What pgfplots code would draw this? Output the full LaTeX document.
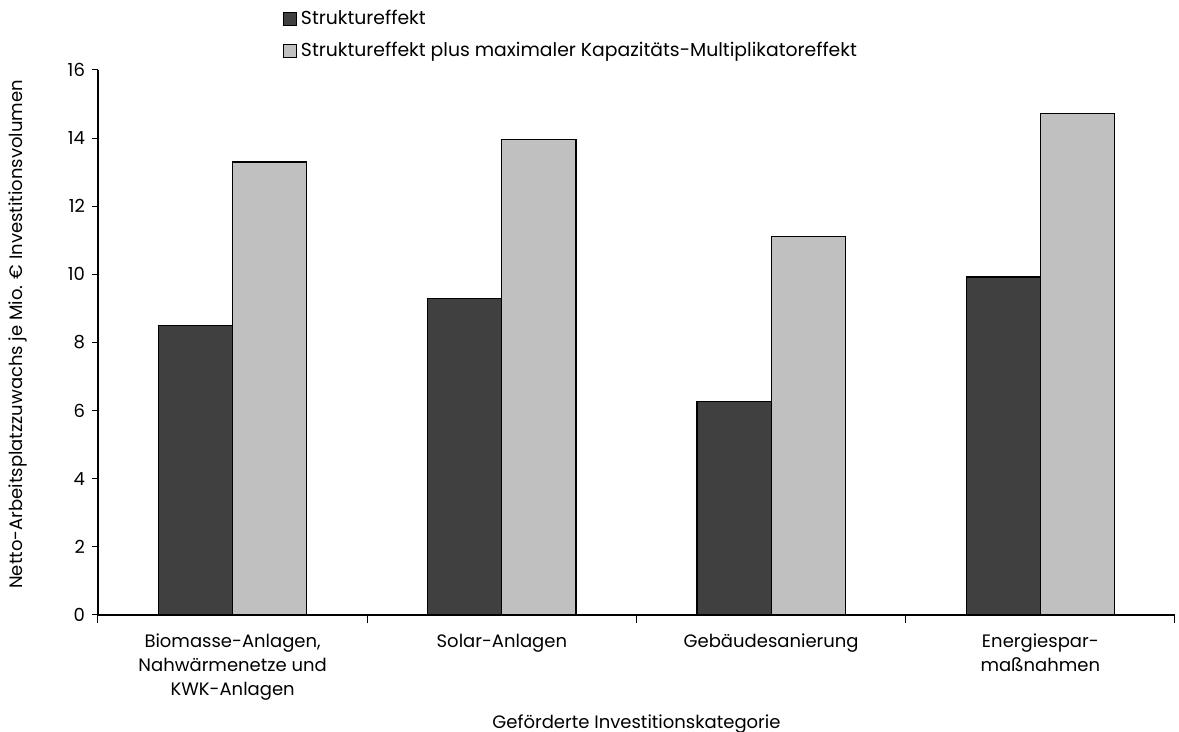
\documentclass[border=0pt]{standalone}
\usepackage{pgfplots}
\pgfplotsset{compat=1.18}
\usepackage{fontspec}
\setmainfont{Poppins}
\definecolor{darkbar}{HTML}{404040}
\definecolor{lightbar}{HTML}{C0C0C0}
\begin{document}
\begin{tikzpicture}
\begin{axis}[
  scale only axis,
  width=538.5pt, height=272.5pt,
  xmin=-0.5, xmax=3.5,
  ymin=0, ymax=16,
  ytick={0,2,...,16},
  xtick={0,1,2,3},
  xticklabels={{Biomasse-Anlagen,\\Nahwärmenetze und\\KWK-Anlagen},{Solar-Anlagen},{Gebäudesanierung},{Energiespar-\\maßnahmen}},
  minor xtick={-0.5,0.5,1.5,2.5,3.5},
  major x tick style={draw=none},
  minor tick length=4pt,
  major tick length=3pt,
  tick align=outside,
  tick style={black, line width=0.5pt},
  axis x line*=bottom,
  axis y line*=left,
  axis line style={-, black, line width=0.6pt},
  /pgf/number format/assume math mode=true,
  ticklabel style={font=\fontsize{9}{12}\selectfont},
  xticklabel style={align=center, yshift=-3pt},
  xlabel={Geförderte Investitionskategorie},
  ylabel={Netto-Arbeitsplatzzuwachs je Mio. € Investitionsvolumen},
  label style={font=\fontsize{9}{12}\selectfont},
  ylabel style={at={(axis description cs:-0.0743,0.515)}, anchor=center, rotate=0},
  legend style={at={(axis description cs:0.166,1.02)}, anchor=south west, yshift=-4.5pt, draw=none, fill=none,
    font=\fontsize{9.4}{12}\selectfont, row sep=3.5pt, cells={anchor=west}},
  legend image code/.code={\draw[#1, line width=0.5pt] (0pt,-3.2pt) rectangle (6.4pt,3.2pt);},
  bar width=0.275,
]
\addplot[ybar, bar shift=-0.1375, fill=darkbar, draw=black, line width=0.6pt] coordinates {(0,8.49) (1,9.28) (2,6.27) (3,9.92)};
\addplot[ybar, bar shift=0.1375, fill=lightbar, draw=black, line width=0.6pt] coordinates {(0,13.30) (1,13.97) (2,11.10) (3,14.72)};
\legend{Struktureffekt, Struktureffekt plus maximaler Kapazitäts-Multiplikatoreffekt}
\end{axis}
\pgfresetboundingbox
\path[use as bounding box] (-49pt,-58.5pt) rectangle (540.5pt,307.5pt);
\end{tikzpicture}
\end{document}
